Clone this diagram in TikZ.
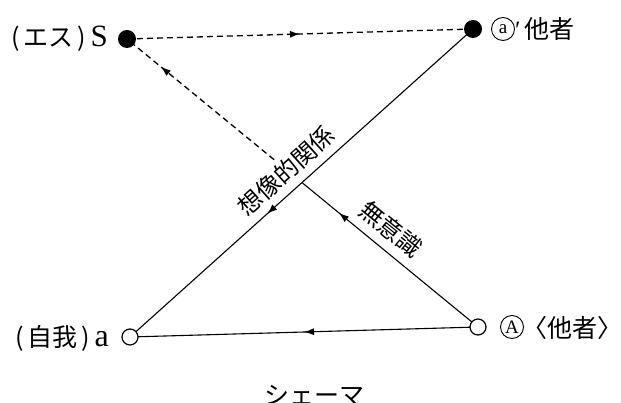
\documentclass[tikz,border=0pt]{standalone}
\usepackage{fontspec}
\setmainfont{Noto Sans CJK JP}
\newfontfamily\lat{Liberation Serif}
\usetikzlibrary{arrows.meta,decorations.markings,calc}
\tikzset{
  dotb/.style={circle,fill=black,inner sep=0pt,minimum size=18pt},
  doto/.style={circle,draw=black,line width=1.2pt,fill=white,inner sep=0pt,minimum size=16pt},
  ln/.style={line width=1.1pt,black},
  dsh/.style={line width=1.3pt,dash pattern=on 6pt off 4pt},
  midarr/.style={postaction={decorate},decoration={markings,mark=at position #1 with {\arrow{Latex[length=10pt,width=7pt]}}}},
  lbl/.style={font=\fontsize{25}{27}\selectfont,inner sep=0pt},
  circ/.style={circle,draw=black,line width=0.9pt,inner sep=0pt,minimum size=23pt,font=\lat\fontsize{19}{19}\selectfont},
}
\begin{document}
\begin{tikzpicture}[x=1pt,y=-1pt]
\useasboundingbox (0,0) rectangle (621,403);
\coordinate (Sc) at (127,39);
\coordinate (apc) at (473,29);
\coordinate (ac) at (130,337);
\coordinate (Ac) at (478,327);
\coordinate (X) at (intersection of apc--ac and Ac--Sc);
\coordinate (D) at ($(X)!36pt!(Sc)$);
% lines
\draw[ln,midarr=0.6] (apc) -- (ac);
\draw[ln,midarr=0.5] (Ac) -- (ac);
\draw[ln,midarr=0.79] (Ac) -- (X);
\draw[dsh,midarr=0.5] (Sc) -- (apc);
\draw[dsh,midarr=0.77] (D) -- (Sc);
% nodes
\node[dotb] (S) at (Sc) {};
\node[dotb] (ap) at (apc) {};
\node[doto] (a) at (ac) {};
\node[doto] (A) at (Ac) {};
% labels
\node[lbl,anchor=east] (lS) at (108,39) {(\,エス\,)\,{\lat\fontsize{31}{31}\selectfont S}};
\node[circ] (ca) at (503,29) {a};
\node[lbl,anchor=west] (lap) at (515,29) {{\lat\char"2032}\,他者};
\node[lbl,anchor=east] (la) at (109,338) {(\,自我\,)\,{\lat\fontsize{32}{32}\selectfont a}};
\node[circ] (cA) at (512,327) {A};
\node[lbl,anchor=west] (lA) at (522,328) {〈他者〉\kern-11pt};
\node[lbl,font=\fontsize{24}{26}\selectfont,rotate=41.9] (imag) at (286,171) {想像的関係};
\node[lbl,font=\fontsize{24}{26}\selectfont,rotate=-39] (unc) at (391,229) {無意識};
\node[lbl] (title) at (314,395) {シェーマ};
\end{tikzpicture}
\end{document}
